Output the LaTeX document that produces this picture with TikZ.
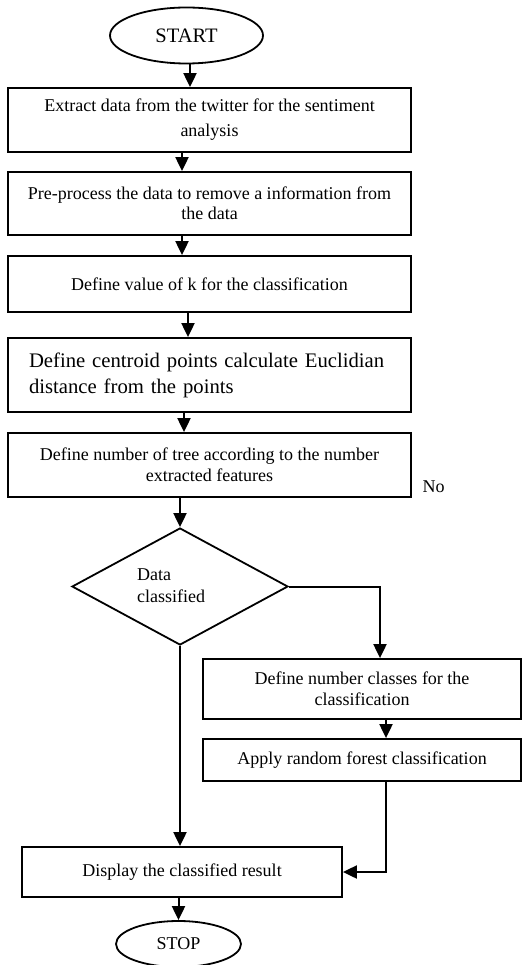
\documentclass[tikz,border=0pt]{standalone}
\usepackage{fontspec}
\setmainfont{Liberation Serif}
\usetikzlibrary{shapes.geometric,arrows.meta}
\begin{document}
\begin{tikzpicture}[x=1pt,y=-1pt,
  every node/.style={font=\fontsize{18}{21}\selectfont},
  procbox/.style={draw,line width=1.8pt,rectangle,align=center,inner sep=0pt},
  term/.style={draw,line width=1.8pt,ellipse,inner sep=0pt},
  decision/.style={draw,line width=1.8pt,diamond,inner sep=0pt,minimum width=216pt,minimum height=117pt},
  arr/.style={line width=2pt,-{Triangle[length=14pt,width=13pt]}},
  conn/.style={line width=2pt}]
\useasboundingbox (0,0) rectangle (522,965);
\node[term,minimum width=153pt,minimum height=56pt,font=\fontsize{20.5}{24}\selectfont] (start) at (186.5,35.5) {START};
\node[procbox,minimum width=403pt,minimum height=64pt,font=\fontsize{18}{25}\selectfont] (b1) at (209.5,120) {Extract data from the twitter for the sentiment\\analysis};
\node[procbox,minimum width=403pt,minimum height=63pt,font=\fontsize{18}{20}\selectfont] (b2) at (209.5,203.5) {Pre-process the data to remove a information from\\the data};
\node[procbox,minimum width=403pt,minimum height=56pt] (b3) at (209.5,284) {Define value of k for the classification};
\node[procbox,minimum height=74pt,text width=361pt,inner xsep=21pt,align=left,font=\fontsize{20.7}{26}\selectfont] (b4) at (209.5,375) {Define centroid points calculate Euclidian\\distance from the points};
\node[procbox,minimum width=403pt,minimum height=64pt] (b5) at (209.5,465) {Define number of tree according to the number\\extracted features};
\node (no) at (433.5,487) {No};
\node[decision] (dec) at (180,586.5) {};
\node[align=left,anchor=west,inner sep=0pt,font=\fontsize{18}{22}\selectfont] (dectext) at (137,586) {Data\\classified};
\node[procbox,minimum width=318pt,minimum height=60pt] (b6) at (362,689) {Define number classes for the\\classification};
\node[procbox,minimum width=318pt,minimum height=42pt] (b7) at (362,760) {Apply random forest classification};
\node[procbox,minimum width=320pt,minimum height=50pt] (b8) at (182,872) {Display the classified result};
\node[term,minimum width=125pt,minimum height=46pt] (stop) at (178.5,944) {STOP};
\draw[arr] ([xshift=3.5pt]start.south) -- ([xshift=-19.5pt]b1.north);
\draw[arr] ([xshift=-27.5pt]b1.south) -- ([xshift=-27.5pt]b2.north);
\draw[arr] ([xshift=-27.5pt]b2.south) -- ([xshift=-27.5pt]b3.north);
\draw[arr] ([xshift=-21.5pt]b3.south) -- ([xshift=-21.5pt]b4.north);
\draw[arr] ([xshift=-25.5pt]b4.south) -- ([xshift=-25.5pt]b5.north);
\draw[arr] (b5.south -| dec.north) -- (dec.north);
\draw[arr] (dec.east) -| ([xshift=18pt]b6.north);
\draw[arr] (dec.south) -- (dec.south |- b8.north);
\draw[arr] ([xshift=24pt]b6.south) -- ([xshift=24pt]b7.north);
\draw[arr] ([xshift=24pt]b7.south) |- (b8.east);
\draw[arr] (b8.south -| stop.north) -- (stop.north);
\end{tikzpicture}
\end{document}
